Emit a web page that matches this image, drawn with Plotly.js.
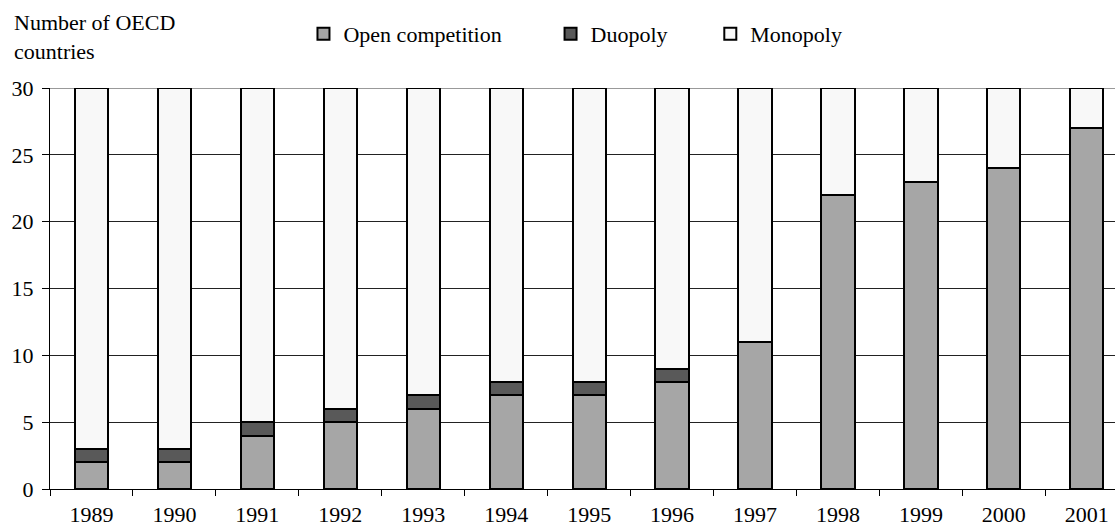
<!DOCTYPE html>
<html>
<head>
<meta charset="utf-8">
<script src="https://cdn.plot.ly/plotly-3.0.1.min.js"></script>
<style>
  html, body { margin: 0; padding: 0; background: #fff; }
  #chart { width: 1115px; height: 529px; }
</style>
</head>
<body>
<div id="chart"></div>
<script>
// Data
const years = ['1989', '1990', '1991', '1992', '1993', '1994', '1995',
               '1996', '1997', '1998', '1999', '2000', '2001'];
const openCompetition = [2, 2, 4, 5, 6, 7, 7, 8, 11, 22, 23, 24, 27];
const duopoly = [1, 1, 1, 1, 1, 1, 1, 1, 0, 0, 0, 0, 0];
const monopoly = [27, 27, 25, 24, 23, 22, 22, 21, 19, 8, 7, 6, 3];

const serif = '"Liberation Serif", "Times New Roman", serif';
const fontSize = 22;
const outline = { color: '#000', width: 2 };

const traces = [
    { x: years, y: openCompetition, name: 'Open competition', type: 'bar',
      legend: 'legend', marker: { color: '#a6a6a6', line: outline } },
    { x: years, y: duopoly, name: 'Duopoly', type: 'bar',
      legend: 'legend2', marker: { color: '#595959', line: outline } },
    { x: years, y: monopoly, name: 'Monopoly', type: 'bar',
      legend: 'legend3', marker: { color: '#f8f8f8', line: outline } }
];

// one legend box per entry so each can sit where the reference has it
function legendAt(x) {
    return {
        orientation: 'h',
        x: x, xanchor: 'left',
        y: 1.135, yanchor: 'middle',
        bgcolor: 'rgba(0,0,0,0)',
        font: { family: serif, size: fontSize, color: '#000' },
        itemwidth: 30
    };
}

const layout = {
    width: 1115,
    height: 529,
    barmode: 'stack',
    bargap: 0.6,
    margin: { l: 50, r: 0, t: 88, b: 40 },
    paper_bgcolor: '#fff',
    plot_bgcolor: '#fff',
    font: { family: serif, size: fontSize, color: '#000' },
    showlegend: true,
    legend: legendAt(0.238),
    legend2: legendAt(0.470),
    legend3: legendAt(0.620),
    xaxis: {
        type: 'category',
        range: [-0.5, 12.34],
        tickson: 'boundaries',
        ticks: 'outside',
        ticklen: 6,
        tickcolor: '#000',
        showline: true,
        linecolor: '#000',
        linewidth: 1,
        showgrid: false,
        ticklabelstandoff: 6,
        fixedrange: true
    },
    yaxis: {
        range: [0, 30],
        dtick: 5,
        ticks: 'outside',
        ticklen: 7,
        tickcolor: '#000',
        showline: true,
        linecolor: '#000',
        gridcolor: '#222',
        gridwidth: 1,
        zeroline: false,
        ticklabelstandoff: 4,
        fixedrange: true
    },
    shapes: [
        { type: 'line', xref: 'paper', yref: 'y', x0: 0, x1: 1, y0: 30, y1: 30,
          line: { color: '#999', width: 2 }, layer: 'below' }
    ],
    annotations: [
        { text: 'Number of OECD<br>countries', xref: 'paper', yref: 'paper',
          x: -0.0357, y: 1.2, xanchor: 'left', yanchor: 'top', align: 'left',
          showarrow: false, font: { family: serif, size: fontSize, color: '#000' } }
    ]
};

Plotly.newPlot('chart', traces, layout, { staticPlot: true });
</script>
</body>
</html>
